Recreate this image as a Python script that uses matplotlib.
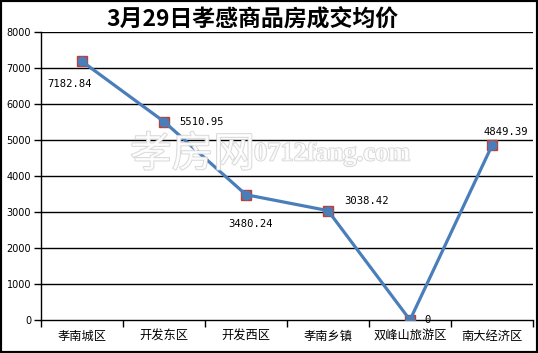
import matplotlib
matplotlib.use("Agg")
import matplotlib.pyplot as plt
import matplotlib.patheffects as pe
from matplotlib.patches import Rectangle

categories = ["孝南城区", "开发东区", "开发西区", "孝南乡镇", "双峰山旅游区", "南大经济区"]
values = [7182.84, 5510.95, 3480.24, 3038.42, 0, 4849.39]
value_labels = ["7182.84", "5510.95", "3480.24", "3038.42", "0", "4849.39"]
label_offsets = [(-12, -23), (38, 0), (5, -29), (39, 10), (18, 0), (14, 13)]
yticks = [0, 1000, 2000, 3000, 4000, 5000, 6000, 7000, 8000]
title = "3月29日孝感商品房成交均价"

plt.rcParams['font.family'] = ['Noto Sans CJK SC', 'DejaVu Sans']

fig = plt.figure(figsize=(5.38, 3.53), dpi=100)
ax = fig.add_axes([41/538, 1-320/353, (533-41)/538, (320-32)/353])

x = [i + 0.5 for i in range(len(categories))]
ax.set_xlim(0, len(categories))
ax.set_ylim(0, 8000)

for y in yticks[1:]:
    ax.axhline(y, color='black', lw=1.0, zorder=1)

ax.plot(x, values, linestyle='none', marker='s', ms=7.8, mfc='#C0504D', mec='#B04540', zorder=3)
ax.plot(x, values, color='#4A7EBB', lw=2.3, marker='o', ms=6, mfc='#4A7EBB', mec='#4A7EBB', zorder=4)

for xi, v, lab, off in zip(x, values, value_labels, label_offsets):
    ax.annotate(lab, (xi, v), xytext=off, textcoords='offset pixels', ha='center', va='center',
                fontsize=7.6, family='DejaVu Sans Mono', color='black', zorder=6)

ax.set_yticks(yticks)
ax.set_yticklabels([str(t) for t in yticks], fontsize=7, family='DejaVu Sans')
ax.set_xticks(range(len(categories) + 1))
ax.set_xticklabels([])
ax.set_xticks(x, minor=True)
ax.set_xticklabels(categories, minor=True, fontsize=8.8)
ax.tick_params(axis='x', which='major', length=5, width=1, direction='out', color='black')
ax.tick_params(axis='x', which='minor', length=0, pad=7)
ax.tick_params(axis='y', length=5, width=1, direction='out', pad=2)
for s in ['top', 'right']:
    ax.spines[s].set_visible(False)
for s in ['left', 'bottom']:
    ax.spines[s].set_linewidth(1.0)

wm_fx = [pe.Stroke(linewidth=1.2, foreground='#cccccc'), pe.Normal()]
fig.text(130/538, 1-155/353, "孝房网", fontsize=30, color='white', ha='left', va='center',
         path_effects=wm_fx, alpha=0.8, zorder=10)
fig.text(254/538, 1-154/353, "0712fang.com", fontsize=19, color='white', ha='left', va='center',
         family='Liberation Serif', fontweight='bold', path_effects=wm_fx, alpha=0.8, zorder=10)

fig.text(252/538, 1-19/353, title, fontsize=16.5, fontweight='bold', ha='center', va='center')

fig.patches.append(Rectangle((0, 0), 1, 1, transform=fig.transFigure, fill=False,
                             edgecolor='black', linewidth=3, zorder=20))

fig.savefig("out.png", dpi=100)
